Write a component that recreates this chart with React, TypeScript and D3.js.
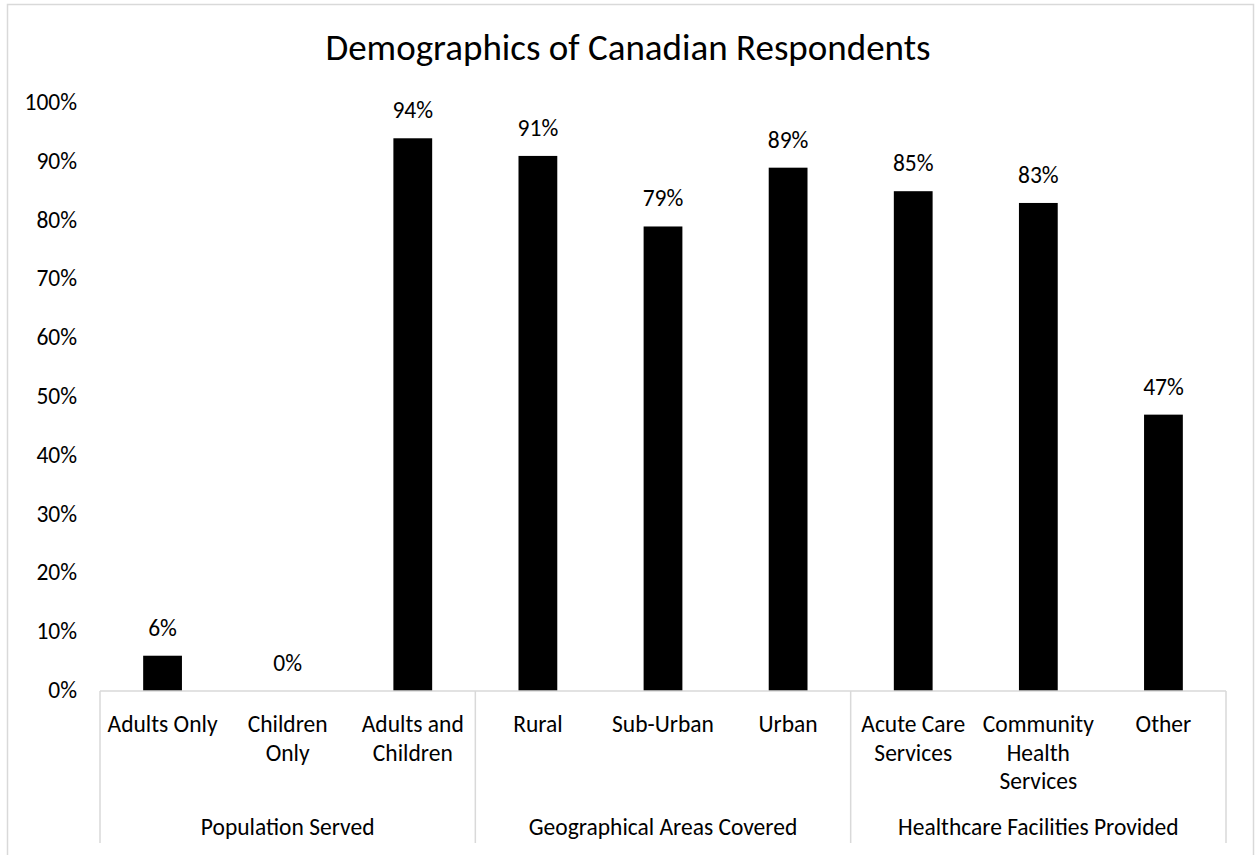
import React from "react";
import * as d3 from "d3";

const categories = [
  "Adults Only",
  "Children\nOnly",
  "Adults and\nChildren",
  "Rural",
  "Sub-Urban",
  "Urban",
  "Acute Care\nServices",
  "Community\nHealth\nServices",
  "Other",
];
const values = [6, 0, 94, 91, 79, 89, 85, 83, 47];
const groups = ["Population Served", "Geographical Areas Covered", "Healthcare Facilities Provided"];
const groupSizes = [3, 3, 3];
const yTicks = [0, 10, 20, 30, 40, 50, 60, 70, 80, 90, 100];
const title = "Demographics of Canadian Respondents";

const W = 1255;
const H = 855;
const FONT = "Carlito, Calibri, Lato, 'Open Sans', sans-serif";
const FS = 23.5;

export default function App() {
  const left = 100, right = 1226, top = 103, bottom = 691;
  const x = d3.scaleBand<number>().domain(d3.range(categories.length)).range([left, right]).paddingInner(0.69).paddingOuter(0.345);
  const y = d3.scaleLinear().domain([0, 100]).range([bottom, top]);
  const step = x.step();
  const axisColor = "#d9d9d9";
  const fmt = (v: number) => `${v}%`;

  let acc = 0;
  const bounds: number[] = [left];
  const groupCenters: number[] = [];
  groupSizes.forEach((n) => {
    const x0 = left + acc * step;
    acc += n;
    const x1 = left + acc * step;
    bounds.push(x1);
    groupCenters.push((x0 + x1) / 2);
  });

  return (
    <svg width={W} height={H} style={{ position: "absolute", left: 0, top: 0, background: "#fff" }} fontFamily={FONT}>
      <rect x={7.5} y={4.5} width={1246} height={880} fill="#fff" stroke={axisColor} strokeWidth={1.5} />
      <text x={628} y={60} textAnchor="middle" fontSize={37} fill="#000">{title}</text>
      {yTicks.map((t) => (
        <text key={t} x={77} y={y(t) + 7} textAnchor="end" fontSize={FS} fill="#000">{fmt(t)}</text>
      ))}
      {values.map((v, i) => (
        <g key={i}>
          <rect x={x(i)} y={y(v)} width={x.bandwidth()} height={bottom - y(v)} fill="#000" />
          <text x={(x(i) as number) + x.bandwidth() / 2} y={y(v) - 20} textAnchor="middle" fontSize={FS} fill="#000">{fmt(v)}</text>
        </g>
      ))}
      <line x1={left} x2={right} y1={bottom} y2={bottom} stroke={axisColor} strokeWidth={1.5} />
      {bounds.map((b, i) => (
        <line key={i} x1={b} x2={b} y1={bottom} y2={843} stroke={axisColor} strokeWidth={1.5} />
      ))}
      {categories.map((c, i) => (
        <text key={i} textAnchor="middle" fontSize={FS} fill="#000">
          {c.split("\n").map((ln, j) => (
            <tspan key={j} x={(x(i) as number) + x.bandwidth() / 2} y={732 + j * 28.5}>{ln}</tspan>
          ))}
        </text>
      ))}
      {groups.map((g, i) => (
        <text key={i} x={groupCenters[i]} y={835} textAnchor="middle" fontSize={FS} fill="#000">{g}</text>
      ))}
    </svg>
  );
}
